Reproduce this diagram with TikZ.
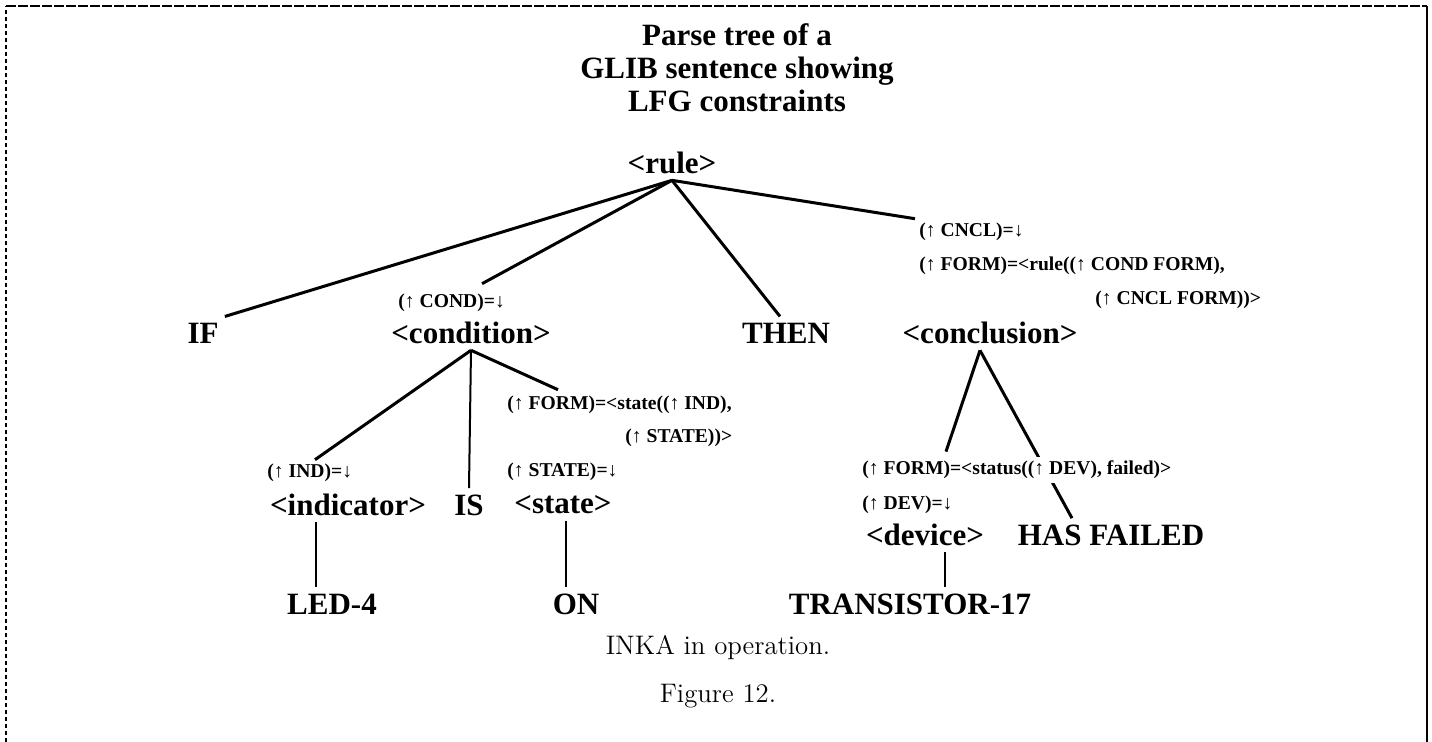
\documentclass[tikz,border=0pt]{standalone}
\usepackage{fontspec}
\newfontfamily\glibfont{Liberation Serif}
\usetikzlibrary{backgrounds}

\tikzset{
  sym/.style={font=\glibfont\bfseries\fontsize{15.5}{16.5}\selectfont, inner sep=3pt},
  lfg/.style={font=\glibfont\bfseries\fontsize{9.8}{10}\selectfont, inner sep=2pt, anchor=west},
  capt/.style={font=\fontsize{13.4}{16}\selectfont},
  branch/.style={line width=1.5pt},
  stem/.style={line width=1pt}
}

\begin{document}
\begin{tikzpicture}[x=0.5pt,y=-0.5pt]
\useasboundingbox (0,0) rectangle (1432,742);

% frame
\draw[line width=1pt, dash pattern=on 2pt off 1.5pt] (6,742) -- (6,6);
\draw[line width=1.2pt, dash pattern=on 5pt off 1pt] (6,6) -- (1427,6);
\draw[line width=1pt] (1427,6) -- (1427,742);

\node[sym, align=center] (title) at (737,68) {Parse tree of a\\GLIB sentence showing\\LFG constraints};

% categories and words
\node[sym] (rule) at (672,163) {<rule>};
\node[sym] (if) at (203,333) {IF};
\node[sym] (condition) at (471,333) {<condition>};
\node[sym] (then) at (786,333) {THEN};
\node[sym] (conclusion) at (990,333) {<conclusion>};
\node[sym] (indicator) at (348,505) {<indicator>};
\node[sym] (is) at (469,505) {IS};
\node[sym] (state) at (563,505) {<state>};
\node[sym] (led) at (332,604) {LED-4};
\node[sym] (on) at (576,604) {ON};
\node[sym] (device) at (925,535) {<device>};
\node[sym] (failed) at (1111,535) {HAS FAILED};
\node[sym] (transistor) at (910,604) {TRANSISTOR-17};

% LFG constraints
\node[lfg] (cncleq) at (915,232) {(↑ CNCL)=↓};
\node[lfg] (ruleform) at (915,266) {(↑ FORM)=<rule((↑ COND FORM),};
\node[lfg] (ruleform2) at (1091,300) {(↑ CNCL FORM))>};
\node[lfg] (condeq) at (394,303) {(↑ COND)=↓};
\node[lfg] (stateform) at (503,405) {(↑ FORM)=<state((↑ IND),};
\node[lfg] (stateform2) at (621,438) {(↑ STATE))>};
\node[lfg] (indeq) at (263,473) {(↑ IND)=↓};
\node[lfg] (stateeq) at (503,472) {(↑ STATE)=↓};
\node[lfg, fill=white] (statusform) at (858,470) {(↑ FORM)=<status((↑ DEV), failed)>};
\node[lfg] (deveq) at (858,505) {(↑ DEV)=↓};

\begin{scope}[on background layer]
\draw[branch] (rule.south) -- (if.north east);
\draw[branch] (rule.south) -- ([xshift=44pt,yshift=3pt]condeq.north west);
\draw[branch] (rule.south) -- ([xshift=-3pt]then.north);
\draw[branch] (rule.south) -- (cncleq.north west);

\draw[branch] (condition.south) -- ([xshift=26pt]indeq.north west);
\draw[stem] (condition.south) -- (is.north);
\draw[branch] (condition.south) -- ([xshift=27.5pt,yshift=1pt]stateform.north west);

\draw[stem] ([xshift=-16pt]indicator.south) -- ([xshift=-16pt]indicator.south |- led.north);
\draw[stem] ([xshift=1.5pt]state.south) -- ([xshift=1.5pt]state.south |- on.north);

\draw[branch] ([xshift=-5pt]conclusion.south) -- ([xshift=44pt,yshift=2.5pt]statusform.north west);
\draw[branch] ([xshift=-5pt]conclusion.south) -- ([xshift=-19.5pt]failed.north);
\draw[stem] ([xshift=10pt]device.south) -- ([xshift=10pt]device.south |- transistor.north);
\end{scope}

\node[capt] (inka) at (718,648) {INKA in operation.};
\node[capt] (fig) at (718,696) {Figure 12.};

\end{tikzpicture}
\end{document}
